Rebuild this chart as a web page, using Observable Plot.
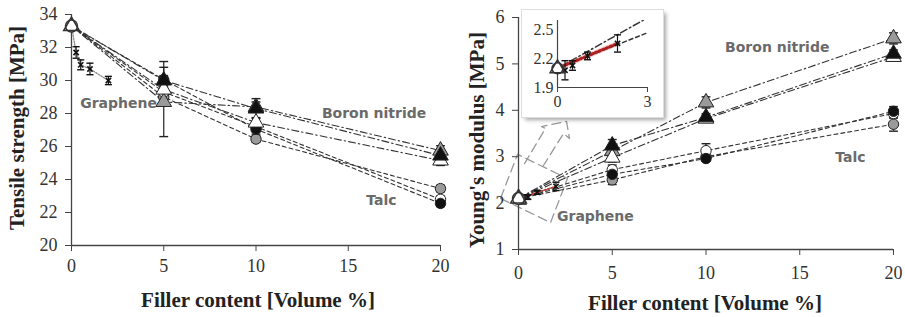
<!DOCTYPE html>
<html><head><meta charset="utf-8">
<script src="https://cdn.jsdelivr.net/npm/d3@7"></script>
<script src="https://cdn.jsdelivr.net/npm/@observablehq/plot@0.6"></script>
<style>
body{margin:0;background:#fff;}
#wrap{position:relative;width:905px;height:317px;overflow:hidden;background:#fff;}
#wrap g[aria-label*="tick label"]{font-family:"Liberation Serif","Times New Roman",serif !important;}
.panel{position:absolute;top:0;}
#inset{position:absolute;left:522px;top:10px;width:141px;height:107px;background:#fff;box-shadow:3px 3px 4px rgba(0,0,0,0.35);outline:1px solid #ddd;}
.title{position:absolute;font-family:"Liberation Serif","Times New Roman",serif;font-weight:bold;font-size:21px;color:#222;white-space:nowrap;}
.ytitle{transform:translate(-50%,-50%) rotate(-90deg);}
.xtitle{transform:translate(-50%,-50%);}
</style></head><body>
<div id="wrap">
<div id="left" class="panel" style="left:0"></div>
<div id="right" class="panel" style="left:450px"></div>
<div id="inset"></div>
<div class="title ytitle" style="left:17px;top:128px">Tensile strength [MPa]</div>
<div class="title ytitle" style="left:477px;top:140px">Young's modulus [MPa]</div>
<div class="title xtitle" style="left:258px;top:300px">Filler content [Volume %]</div>
<div class="title xtitle" style="left:705px;top:303px">Filler content [Volume %]</div>
</div>
<script>
// ---------- data ----------
const filler = [0, 5, 10, 20];
const grapheneX = [0, 0.25, 0.5, 1, 2];
const xTicks = [0, 5, 10, 15, 20];

// Tensile strength [MPa]
const tsTicks = [20, 22, 24, 26, 28, 30, 32, 34];
const tsGraphene = [33.3, 31.7, 30.95, 30.7, 30.0];
const tsGrapheneErr = [0.35, 0.35, 0.3, 0.35, 0.25];
const tsBNOpen = [33.3, 29.45, 27.45, 25.15];
const tsBNGrey = [33.3, 28.7, 28.4, 25.75];
const tsBNBlack = [33.3, 30.0, 28.3, 25.45];
const tsTalcOpen = [33.3, 29.3, 27.2, 22.8];
const tsTalcGrey = [33.3, 29.0, 26.45, 23.45];
const tsTalcBlack = [33.3, 30.05, 27.05, 22.55];
const tsBNOpenErr = [0.4, 0.3, 0.3, 0.3];
const tsBNGreyErr = [0, 2.1, 0.3, 0.3];
const tsBNBlackErr = [0, 0.3, 0.6, 0.3];
const tsTalcOpenErr = [0, 0.3, 0.3, 0.2];
const tsTalcGreyErr = [0, 0.3, 0.2, 0.2];
const tsTalcBlackErr = [0, 1.1, 0.3, 0.2];

// Young's modulus [MPa]
const ymTicks = [1, 2, 3, 4, 5, 6];
const ymGraphene = [2.1, 2.08, 2.13, 2.23, 2.36];
const ymGrapheneErr = [0.05, 0.1, 0.05, 0.04, 0.09];
const ymBNOpen = [2.1, 2.98, 3.82, 5.15];
const ymBNGrey = [2.1, 3.12, 4.17, 5.55];
const ymBNBlack = [2.1, 3.24, 3.85, 5.22];
const ymTalcOpen = [2.1, 2.72, 3.13, 3.93];
const ymTalcGrey = [2.1, 2.5, 3.0, 3.7];
const ymTalcBlack = [2.1, 2.62, 2.96, 3.98];
const ymBNOpenErr = [0.05, 0.1, 0.08, 0.08];
const ymBNGreyErr = [0, 0.1, 0.12, 0.12];
const ymBNBlackErr = [0, 0.13, 0.08, 0.08];
const ymTalcOpenErr = [0, 0.1, 0.15, 0.1];
const ymTalcGreyErr = [0, 0.1, 0.1, 0.15];
const ymTalcBlackErr = [0, 0.1, 0.05, 0.1];
const ymFitX = [0.15, 2];
const ymFitY = [2.12, 2.36];

// inset
const insetXTicks = [0, 3];
const insetYTicks = [1.9, 2.2, 2.5];

// callout (data coords of right panel)
const calloutBoxX = [-0.96, 1.71, 2.61, -0.05, -0.96];
const calloutBoxY = [2.10, 1.58, 2.53, 3.05, 2.10];
const calloutArrowX = [0.32, 1.44, 1.23, 2.56, 2.72, 2.40, 1.33];
const calloutArrowY = [2.85, 3.61, 3.65, 3.76, 3.39, 3.50, 2.81];

// labels
const tsLabels = [{t: "Graphene", x: 2.55, y: 28.6}, {t: "Boron nitride", x: 16.4, y: 28.0}, {t: "Talc", x: 16.8, y: 22.7}];
const ymLabels = [{t: "Boron nitride", x: 13.8, y: 5.35}, {t: "Talc", x: 17.7, y: 2.98}, {t: "Graphene", x: 4.1, y: 1.71}];

// ---------- helpers ----------
const capSymbol = {draw(ctx, size) { const w = Math.sqrt(size) / 2; ctx.moveTo(-w, 0); ctx.lineTo(w, 0); }};
const BN_DASH = "7,3,1.5,3";
const TALC_DASH = "4,3";
const fmt = d => String(d);
const SERIF = "Liberation Serif, Times New Roman, serif";

function seriesDefs(p) {
  return [
    {v: p.TalcGrey, e: p.TalcGreyErr, sym: "circle", fill: "#9a9a9a", dash: TALC_DASH},
    {v: p.TalcOpen, e: p.TalcOpenErr, sym: "circle", fill: "#ffffff", dash: TALC_DASH},
    {v: p.TalcBlack, e: p.TalcBlackErr, sym: "circle", fill: "#111111", dash: TALC_DASH},
    {v: p.BNGrey, e: p.BNGreyErr, sym: "triangle", fill: "#9a9a9a", dash: BN_DASH},
    {v: p.BNOpen, e: p.BNOpenErr, sym: "triangle", fill: "#ffffff", dash: BN_DASH},
    {v: p.BNBlack, e: p.BNBlackErr, sym: "triangle", fill: "#111111", dash: BN_DASH}
  ];
}

function errMarks(rows, color, capW) {
  const r = rows.filter(d => d.e > 0);
  return [
    Plot.ruleX(r, {x: "x", y1: d => d.y - d.e, y2: d => d.y + d.e, stroke: color, strokeWidth: 1.2}),
    Plot.dot(r, {x: "x", y: d => d.y - d.e, symbol: capSymbol, r: capW, stroke: color, strokeWidth: 1.4, fill: "none"}),
    Plot.dot(r, {x: "x", y: d => d.y + d.e, symbol: capSymbol, r: capW, stroke: color, strokeWidth: 1.4, fill: "none"})
  ];
}

function panel(opts) {
  const defs = seriesDefs(opts.s);
  const lines = [], errs = [], dots = [];
  for (const s of defs) {
    const rows = filler.map((x, i) => ({x, y: s.v[i], e: s.e[i]}));
    lines.push(Plot.line(rows, {x: "x", y: "y", stroke: "#333", strokeWidth: 1.1, strokeDasharray: s.dash}));
    errs.push(...errMarks(rows.slice(1), "#222", 5));
    dots.push(Plot.dot(rows.slice(1), {x: "x", y: "y", symbol: s.sym, r: s.sym === "triangle" ? 5.8 : 5.2, fill: s.fill, stroke: "#222", strokeWidth: 1}));
  }
  const g = grapheneX.map((x, i) => ({x, y: opts.g[i], e: opts.gErr[i]}));
  const neat = [{x: 0, y: opts.g[0]}];
  const fontLab = {fontFamily: "DejaVu Sans", fontWeight: "bold", fontSize: 14, fill: "#6a6a6a"};
  return Plot.plot({
    width: opts.width, height: 317,
    marginLeft: opts.ml, marginRight: opts.mr, marginTop: opts.mt, marginBottom: opts.mb,
    x: {domain: [0, 20]},
    y: {domain: opts.yDomain},
    style: {fontSize: "18px", fontFamily: SERIF, color: "#333", background: "transparent"},
    marks: [
      ...(opts.extra || []),
      Plot.axisX({ticks: xTicks, tickFormat: fmt, tickSize: 6, tickPadding: opts.xpad, label: null, stroke: "#444", fontFamily: SERIF, fontSize: 18}),
      Plot.axisY({ticks: opts.yTicks, tickFormat: fmt, tickSize: 6, tickPadding: 8, label: null, stroke: "#444", fontFamily: SERIF, fontSize: 18}),
      Plot.ruleX([0], {stroke: "#444", strokeWidth: 1.3}),
      Plot.ruleY([opts.yDomain[0]], {stroke: "#444", strokeWidth: 1.3}),
      ...lines,
      Plot.line(g, {x: "x", y: "y", stroke: "#888", strokeWidth: 1.3, strokeDasharray: "1.5,1.5"}),
      ...(opts.fit || []),
      ...errs,
      ...errMarks(g.slice(1), "#111", 4),
      Plot.dot(g.slice(1), {x: "x", y: "y", symbol: "times", r: 2.5, stroke: "#111", strokeWidth: 1.6}),
      ...dots,
      Plot.dot(neat, {x: "x", y: "y", symbol: "circle", r: 6, fill: "#fff", stroke: "#333"}),
      Plot.dot(neat, {x: "x", y: "y", symbol: "triangle", r: 5.8, fill: "none", stroke: "#333"}),
      Plot.text(opts.labels, {x: "x", y: "y", text: "t", ...fontLab})
    ]
  });
}

document.getElementById("left").append(panel({
  width: 450, ml: 71, mr: 10, mt: 14, mb: 72, yDomain: [20, 34], yTicks: tsTicks, xpad: 8,
  g: tsGraphene, gErr: tsGrapheneErr, labels: tsLabels,
  s: {BNOpen: tsBNOpen, BNGrey: tsBNGrey, BNBlack: tsBNBlack, TalcOpen: tsTalcOpen, TalcGrey: tsTalcGrey, TalcBlack: tsTalcBlack,
      BNOpenErr: tsBNOpenErr, BNGreyErr: tsBNGreyErr, BNBlackErr: tsBNBlackErr, TalcOpenErr: tsTalcOpenErr, TalcGreyErr: tsTalcGreyErr, TalcBlackErr: tsTalcBlackErr}
}));

const boxRows = calloutBoxX.map((x, i) => ({x, y: calloutBoxY[i]}));
const arrowRows = calloutArrowX.map((x, i) => ({x, y: calloutArrowY[i]}));
const fitRows = ymFitX.map((x, i) => ({x, y: ymFitY[i]}));

document.getElementById("right").append(panel({
  width: 455, ml: 68, mr: 12, mt: 17, mb: 68, yDomain: [1, 6], yTicks: ymTicks, xpad: 11,
  g: ymGraphene, gErr: ymGrapheneErr, labels: ymLabels,
  extra: [
    Plot.line(boxRows, {x: "x", y: "y", stroke: "#999", strokeWidth: 1.3, strokeDasharray: "9,5"}),
    Plot.line(arrowRows, {x: "x", y: "y", stroke: "#999", strokeWidth: 1.3, strokeDasharray: "9,5"})
  ],
  fit: [Plot.line(fitRows, {x: "x", y: "y", stroke: "#c0392b", strokeWidth: 1.6, strokeDasharray: "1.5,2"})],
  s: {BNOpen: ymBNOpen, BNGrey: ymBNGrey, BNBlack: ymBNBlack, TalcOpen: ymTalcOpen, TalcGrey: ymTalcGrey, TalcBlack: ymTalcBlack,
      BNOpenErr: ymBNOpenErr, BNGreyErr: ymBNGreyErr, BNBlackErr: ymBNBlackErr, TalcOpenErr: ymTalcOpenErr, TalcGreyErr: ymTalcGreyErr, TalcBlackErr: ymTalcBlackErr}
}));

// inset
const gIn = grapheneX.map((x, i) => ({x, y: ymGraphene[i], e: ymGrapheneErr[i]}));
const bnIn = filler.slice(0, 2).map((x, i) => ({x, y: ymBNOpen[i]}));
const talcIn = filler.slice(0, 2).map((x, i) => ({x, y: ymTalcOpen[i]}));
document.getElementById("inset").append(Plot.plot({
  width: 141, height: 107, marginLeft: 35, marginRight: 16, marginTop: 10, marginBottom: 30,
  x: {domain: [0, 3]}, y: {domain: [1.9, 2.6]}, clip: true,
  style: {fontSize: "16px", fontFamily: SERIF, color: "#333", background: "transparent"},
  marks: [
    Plot.axisX({ticks: insetXTicks, tickFormat: fmt, tickSize: 5, tickPadding: 3, label: null, stroke: "#444", clip: false, fontFamily: SERIF, fontSize: 16}),
    Plot.axisY({ticks: insetYTicks, tickFormat: fmt, tickSize: 0, tickPadding: 4, label: null, stroke: "#444", clip: false, fontFamily: SERIF, fontSize: 16}),
    Plot.ruleX([0], {stroke: "#444", strokeWidth: 1.2, clip: false}),
    Plot.ruleY([1.9], {stroke: "#444", strokeWidth: 1.2, clip: false}),
    Plot.line(bnIn, {x: "x", y: "y", stroke: "#333", strokeDasharray: BN_DASH}),
    Plot.line(talcIn, {x: "x", y: "y", stroke: "#333", strokeDasharray: TALC_DASH}),
    Plot.line(fitRows, {x: "x", y: "y", stroke: "#d06060", strokeWidth: 5, strokeOpacity: 0.35}),
    Plot.line(fitRows, {x: "x", y: "y", stroke: "#b02020", strokeWidth: 3, strokeDasharray: "1.5,2.5"}),
    ...errMarks(gIn, "#111", 4),
    Plot.dot(gIn.slice(1), {x: "x", y: "y", symbol: "times", r: 2.5, stroke: "#111", strokeWidth: 1.5}),
    Plot.dot([{x: 0, y: ymGraphene[0]}], {x: "x", y: "y", symbol: "circle", r: 5.5, fill: "#fff", stroke: "#333", clip: false}),
    Plot.dot([{x: 0, y: ymGraphene[0]}], {x: "x", y: "y", symbol: "triangle", r: 5.5, fill: "none", stroke: "#333", clip: false})
  ]
}));
</script>
</body></html>
